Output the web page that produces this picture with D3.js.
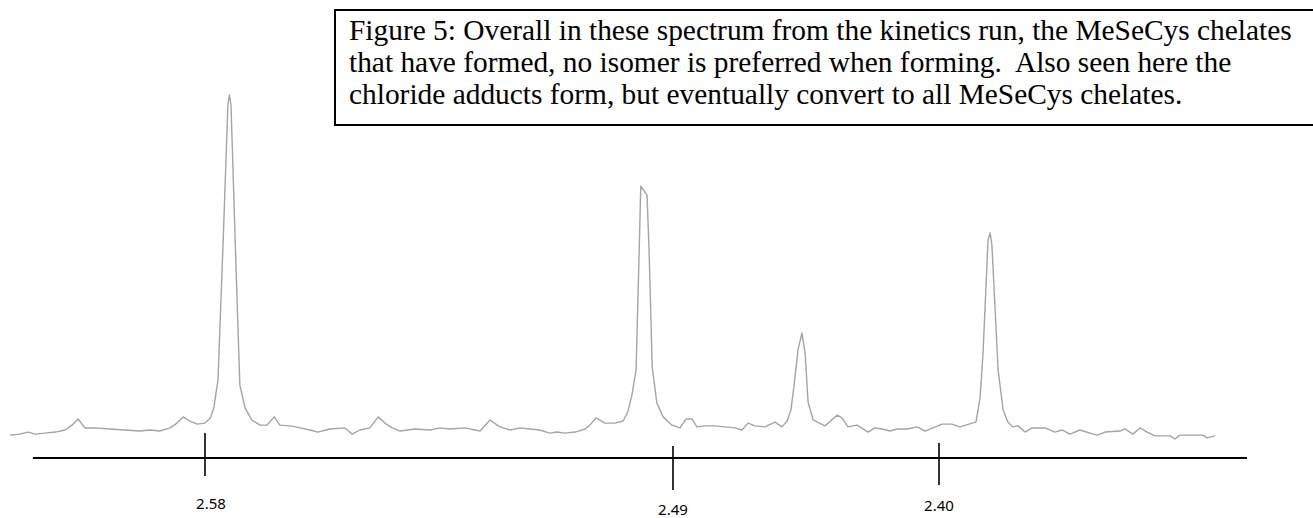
<!DOCTYPE html>
<html>
<head>
<meta charset="utf-8">
<script src="https://cdn.jsdelivr.net/npm/d3@7"></script>
<style>
  html, body { margin: 0; padding: 0; background: #fff; overflow: hidden; }
  svg { display: block; }
</style>
</head>
<body>
<svg id="chart"></svg>
<script>
// Chemical shift of each sampled point of the trace (ppm)
const shiftPpm = [
  2.6175, 2.6156, 2.6140, 2.6127, 2.6108, 2.6088, 2.6069, 2.6056, 2.6044, 2.6031,
  2.6012, 2.5983, 2.5954, 2.5925, 2.5906, 2.5887, 2.5867, 2.5854, 2.5842, 2.5829,
  2.5815, 2.5800, 2.5790, 2.5783, 2.5775, 2.5765, 2.5756, 2.5753, 2.5750, 2.5742,
  2.5733, 2.5723, 2.5710, 2.5694, 2.5681, 2.5667, 2.5656, 2.5637, 2.5617, 2.5598,
  2.5583, 2.5560, 2.5531, 2.5517, 2.5502, 2.5483, 2.5467, 2.5454, 2.5440, 2.5425,
  2.5396, 2.5367, 2.5348, 2.5329, 2.5300, 2.5271, 2.5252, 2.5233, 2.5213, 2.5194,
  2.5175, 2.5156, 2.5137, 2.5123, 2.5108, 2.5088, 2.5069, 2.5060, 2.5048, 2.5031,
  2.5012, 2.4996, 2.4987, 2.4979, 2.4971, 2.4965, 2.4962, 2.4950, 2.4946, 2.4940,
  2.4931, 2.4919, 2.4902, 2.4876, 2.4856, 2.4836, 2.4819, 2.4792, 2.4758, 2.4724,
  2.4690, 2.4667, 2.4646, 2.4623, 2.4589, 2.4555, 2.4531, 2.4514, 2.4501, 2.4491,
  2.4477, 2.4464, 2.4453, 2.4443, 2.4426, 2.4386, 2.4345, 2.4328, 2.4308, 2.4277,
  2.4240, 2.4217, 2.4193, 2.4166, 2.4142, 2.4108, 2.4074, 2.4047, 2.4020, 2.3990,
  2.3956, 2.3929, 2.3888, 2.3875, 2.3861, 2.3851, 2.3834, 2.3827, 2.3821, 2.3800,
  2.3783, 2.3767, 2.3750, 2.3733, 2.3709, 2.3685, 2.3641, 2.3608, 2.3584, 2.3557,
  2.3523, 2.3489, 2.3465, 2.3438, 2.3388, 2.3371, 2.3344, 2.3320, 2.3296, 2.3269,
  2.3218, 2.3202, 2.3185, 2.3134, 2.3107, 2.3093, 2.3066
];

// Relative intensity at each point (tallest peak = 100)
const intensity = [
  1.4, 1.7, 2.3, 1.7, 2.0, 2.3, 2.9, 4.3, 6.1, 3.5,
  3.5, 3.2, 2.9, 2.6, 2.9, 2.6, 3.5, 4.9, 6.7, 5.5,
  4.6, 4.9, 6.4, 9.3, 17.4, 58.0, 97.1, 100.0, 97.1, 58.0,
  15.9, 9.3, 5.8, 4.3, 4.3, 6.7, 4.3, 4.1, 3.5, 2.9,
  2.3, 3.2, 3.5, 1.7, 2.9, 3.5, 6.7, 4.9, 3.5, 2.6,
  3.2, 2.9, 3.5, 3.2, 3.5, 2.6, 5.8, 3.8, 2.9, 3.5,
  3.2, 2.9, 2.0, 2.3, 2.0, 2.3, 3.2, 4.3, 6.4, 4.9,
  4.9, 5.5, 8.1, 13.0, 20.3, 55.1, 73.6, 71.0, 55.1, 21.2,
  10.7, 6.7, 4.3, 3.5, 6.1, 6.1, 3.8, 4.1, 4.1, 3.8,
  3.5, 2.9, 4.9, 4.1, 3.8, 5.2, 3.8, 5.5, 8.7, 15.4,
  26.1, 31.0, 25.2, 11.0, 5.8, 4.1, 7.2, 6.4, 3.8, 4.3,
  2.3, 3.5, 3.2, 2.6, 3.2, 3.2, 3.8, 2.6, 3.5, 4.6,
  4.6, 3.8, 4.9, 5.2, 12.2, 25.2, 58.0, 60.0, 56.5, 20.3,
  8.7, 5.2, 3.8, 4.1, 2.3, 3.5, 3.5, 2.3, 2.9, 1.7,
  2.9, 2.0, 1.4, 2.3, 2.6, 3.2, 1.7, 3.5, 2.3, 1.2,
  1.2, 0.3, 1.4, 1.4, 1.4, 0.6, 1.2
];

// Labelled positions on the shift axis
const tickValues = [2.58, 2.49, 2.40];
const tickLabels = ["2.58", "2.49", "2.40"];
// Span of the ruled axis line (ppm)
const axisExtent = [2.6131, 2.2958];

// Caption text, one entry per line
const captionLines = [
  "Figure 5: Overall in these spectrum from the kinetics run, the MeSeCys chelates",
  "that have formed, no isomer is preferred when forming.  Also seen here the",
  "chloride adducts form, but eventually convert to all MeSeCys chelates."
];

// ---- layout ----
const W = 1313, H = 518;
const axisY = 458;
// hand-ruled ticks: length above / below the axis line, label baseline offset
const tickLayout = [
  { up: 25, down: 18, labelDx: 6, labelDy: 51 },
  { up: 12, down: 32, labelDx: 0, labelDy: 57 },
  { up: 15, down: 27, labelDx: 0, labelDy: 53 }
];

const svg = d3.select("#chart").attr("width", W).attr("height", H);

// Shift axis runs right-to-left (decreasing ppm), ruled piecewise between labelled ticks
const x = d3.scaleLinear().domain(tickValues).range([205, 673, 939]);
const y = d3.scaleLinear().domain([0, 100]).range([440, 95]);

// ---- spectrum trace ----
const pts = d3.range(shiftPpm.length).map(i => [shiftPpm[i], intensity[i]]);
const line = d3.line()
  .x(d => x(d[0]))
  .y(d => y(d[1]));

svg.append("path")
  .datum(pts)
  .attr("d", line)
  .attr("fill", "none")
  .attr("stroke", "#a4a4a4")
  .attr("stroke-width", 1.4)
  .attr("stroke-linejoin", "round");

// ---- axis ----
const axis = svg.append("g").attr("class", "shift-axis");
axis.append("line")
  .attr("x1", x(axisExtent[0])).attr("x2", x(axisExtent[1]))
  .attr("y1", axisY).attr("y2", axisY)
  .attr("stroke", "#000").attr("stroke-width", 2);

const ticks = axis.selectAll("g.tick")
  .data(tickValues.map((v, i) => ({ v, label: tickLabels[i], lay: tickLayout[i] })))
  .join("g").attr("class", "tick");

ticks.append("line")
  .attr("x1", d => x(d.v)).attr("x2", d => x(d.v))
  .attr("y1", d => axisY - d.lay.up).attr("y2", d => axisY + d.lay.down)
  .attr("stroke", "#000").attr("stroke-width", 1.6);

ticks.append("text")
  .attr("x", d => x(d.v) + d.lay.labelDx)
  .attr("y", d => axisY + d.lay.labelDy)
  .attr("text-anchor", "middle")
  .attr("font-family", "'Noto Sans', 'Open Sans', sans-serif")
  .attr("font-size", 15)
  .attr("fill", "#000")
  .text(d => d.label);

// ---- caption box ----
const cap = svg.append("g").attr("class", "caption");
cap.append("rect")
  .attr("x", 335).attr("y", 10)
  .attr("width", 1000).attr("height", 115)
  .attr("fill", "#fff")
  .attr("stroke", "#000").attr("stroke-width", 2);

cap.selectAll("text")
  .data(captionLines)
  .join("text")
  .attr("x", 349)
  .attr("y", (d, i) => 40 + i * 32)
  .attr("font-family", "'Liberation Serif', 'Times New Roman', serif")
  .attr("font-size", 29.4)
  .attr("fill", "#000")
  .attr("xml:space", "preserve")
  .style("white-space", "pre")
  .text(d => d);
</script>
</body>
</html>
